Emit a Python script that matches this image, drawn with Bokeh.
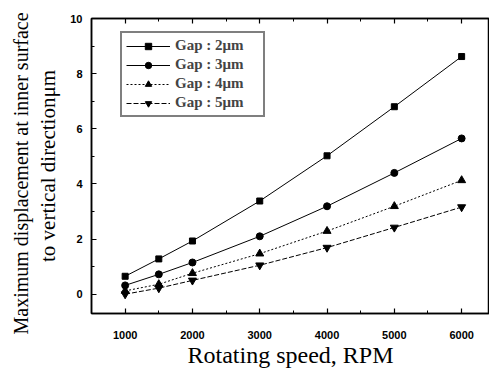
from bokeh.plotting import figure
from bokeh.models import Range1d, FixedTicker, LinearAxis, Legend, LegendItem, Title
from bokeh.embed import file_html
from bokeh.resources import INLINE

rpm = [1000, 1500, 2000, 3000, 4000, 5000, 6000]
gap2 = [0.65, 1.28, 1.93, 3.38, 5.02, 6.80, 8.62]
gap3 = [0.32, 0.72, 1.15, 2.10, 3.19, 4.40, 5.65]
gap4 = [0.12, 0.36, 0.76, 1.47, 2.29, 3.19, 4.13]
gap5 = [0.00, 0.22, 0.50, 1.05, 1.69, 2.42, 3.16]
series_labels = ["Gap : 2\u03bcm", "Gap : 3\u03bcm", "Gap : 4\u03bcm", "Gap : 5\u03bcm"]
x_ticks = [1000, 2000, 3000, 4000, 5000, 6000]
x_minor = [500, 1500, 2500, 3500, 4500, 5500, 6500]
y_ticks = [0, 2, 4, 6, 8, 10]
y_minor = [-1, 1, 3, 5, 7, 9]
y_label_1 = "Maximum displacement at inner surface"
y_label_2 = "to vertical direction\u03bcm"
x_label = "Rotating speed, RPM"

SERIF = "Liberation Serif"
SANS = "Liberation Sans"

p = figure(width=489, height=376, output_backend="svg", toolbar_location=None,
           x_range=Range1d(500, 6414), y_range=Range1d(-0.7, 10),
           min_border_left=91, min_border_right=0, min_border_top=18, min_border_bottom=63)
p.background_fill_color = "white"
p.border_fill_color = "white"
p.outline_line_color = "black"
p.outline_line_width = 1.5
p.xgrid.visible = False
p.ygrid.visible = False

def style_axis(ax, ticks, minor):
    ax.ticker = FixedTicker(ticks=ticks, minor_ticks=minor)
    ax.major_tick_in = 5
    ax.major_tick_out = 0
    ax.minor_tick_in = 3
    ax.minor_tick_out = 0
    ax.axis_line_width = 1.5
    ax.major_tick_line_width = 1.2
    ax.minor_tick_line_width = 1.0
    ax.major_label_text_font = SANS
    ax.major_label_text_font_style = "bold"
    ax.major_label_text_font_size = "11px"
    ax.major_label_text_color = "black"
    ax.axis_label_text_color = "black"

style_axis(p.xaxis[0], x_ticks, x_minor)
style_axis(p.yaxis[0], y_ticks, y_minor)
p.xaxis[0].major_label_standoff = 17
p.yaxis[0].major_label_standoff = 9
p.xaxis[0].axis_label = x_label
p.xaxis[0].axis_label_text_font = SERIF
p.xaxis[0].axis_label_text_font_style = "normal"
p.xaxis[0].axis_label_text_font_size = "24px"
p.xaxis[0].axis_label_standoff = 0

p.yaxis[0].axis_label = y_label_2
p.yaxis[0].axis_label_text_font = SERIF
p.yaxis[0].axis_label_text_font_style = "normal"
p.yaxis[0].axis_label_text_font_size = "21px"
p.yaxis[0].axis_label_standoff = 7

t1 = Title(text=y_label_1, align="left", offset=-21, standoff=3,
           text_font=SERIF, text_font_style="normal", text_font_size="20px",
           text_color="black")
p.add_layout(t1, "left")

top = LinearAxis()
style_axis(top, x_ticks, x_minor)
top.major_label_text_font_size = "1px"
top.major_label_text_alpha = 0
top.major_label_standoff = 0
p.add_layout(top, "above")

r1 = p.line(rpm, gap2, line_color="black", line_width=1)
m1 = p.scatter(rpm, gap2, marker="square", size=6, color="black")
r2 = p.line(rpm, gap3, line_color="black", line_width=1)
m2 = p.scatter(rpm, gap3, marker="circle", size=7, color="black")
r3 = p.line(rpm, gap4, line_color="black", line_width=1, line_dash="2 2")
m3 = p.scatter(rpm, gap4, marker="triangle", size=8, color="black")
r4 = p.line(rpm, gap5, line_color="black", line_width=1, line_dash="5 2")
m4 = p.scatter(rpm, gap5, marker="inverted_triangle", size=8, color="black")

legend = Legend(items=[
    LegendItem(label=series_labels[0], renderers=[r1, m1]),
    LegendItem(label=series_labels[1], renderers=[r2, m2]),
    LegendItem(label=series_labels[2], renderers=[r3, m3]),
    LegendItem(label=series_labels[3], renderers=[r4, m4]),
], location=(29, 196))
legend.label_text_font = SERIF
legend.label_text_font_style = "bold"
legend.label_text_font_size = "15px"
legend.glyph_width = 44
legend.glyph_height = 16
legend.label_height = 16
legend.label_width = 84
legend.spacing = 2
legend.padding = 4
legend.margin = 0
legend.label_standoff = 5
legend.border_line_color = "black"
legend.border_line_width = 2
legend.background_fill_alpha = 1
p.add_layout(legend, "center")

open("out.html", "w").write(file_html(p, INLINE))
